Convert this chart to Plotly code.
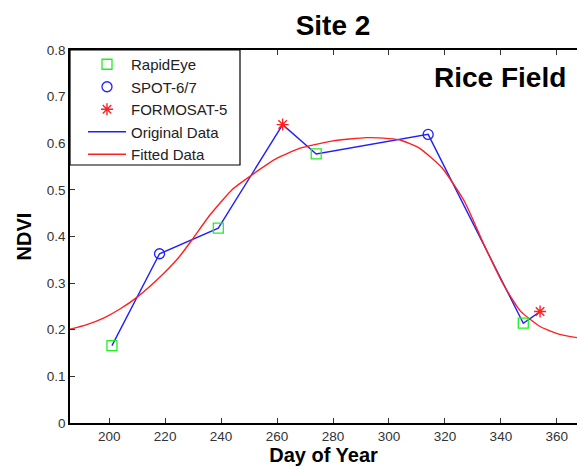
import plotly.graph_objects as go

# Observations by sensor (day of year, NDVI)
rapideye_day = [201, 239, 274, 348]
rapideye_ndvi = [0.166, 0.418, 0.577, 0.214]

spot_day = [218, 314]
spot_ndvi = [0.363, 0.619]

formosat_day = [262, 354]
formosat_ndvi = [0.640, 0.239]

# Fitted NDVI profile
fit_day = [186, 192, 198, 204, 210, 219, 225, 230, 236, 244, 251, 260, 268,
           280, 292, 300, 304, 311, 319, 327, 334, 341, 347, 354, 361, 367.2]
fit_ndvi = [0.201, 0.211, 0.225, 0.245, 0.270, 0.318, 0.356, 0.396, 0.446,
            0.501, 0.532, 0.568, 0.589, 0.605, 0.612, 0.610, 0.607, 0.589,
            0.547, 0.475, 0.382, 0.296, 0.240, 0.207, 0.190, 0.183]

x_ticks = [200, 220, 240, 260, 280, 300, 320, 340, 360]
y_ticks = [0, 0.1, 0.2, 0.3, 0.4, 0.5, 0.6, 0.7, 0.8]
y_tick_text = ["0", "0.1", "0.2", "0.3", "0.4", "0.5", "0.6", "0.7", "0.8"]

# Original series: all acquisitions in date order
orig = sorted(zip(rapideye_day + spot_day + formosat_day,
                  rapideye_ndvi + spot_ndvi + formosat_ndvi))
orig_day = [d for d, _ in orig]
orig_ndvi = [v for _, v in orig]

FONT = "Liberation Sans, Arial, sans-serif"
W, H = 577, 467
L, R, T, B = 70, 0, 50, 44
PW, PH = W - L - R, H - T - B

def px_x(p):
    return (p - L) / PW

def px_y(p):
    return (H - B - p) / PH

fig = go.Figure()

fig.add_trace(go.Scatter(
    x=orig_day, y=orig_ndvi, mode="lines", name="Original Data",
    line=dict(color="#2020ff", width=1.4), legendrank=4))
fig.add_trace(go.Scatter(
    x=fit_day, y=fit_ndvi, mode="lines", name="Fitted Data",
    line=dict(color="#ff2020", width=1.4, shape="spline", smoothing=0.5),
    legendrank=5))
fig.add_trace(go.Scatter(
    x=rapideye_day, y=rapideye_ndvi, mode="markers", name="RapidEye",
    marker=dict(symbol="square-open", size=10, color="#22ee22",
                line=dict(width=1.3)), legendrank=1))
fig.add_trace(go.Scatter(
    x=spot_day, y=spot_ndvi, mode="markers", name="SPOT-6/7",
    marker=dict(symbol="circle-open", size=10, color="#2020ff",
                line=dict(width=1.3)), legendrank=2))
fig.add_trace(go.Scatter(
    x=formosat_day, y=formosat_ndvi, mode="markers", name="FORMOSAT-5",
    marker=dict(symbol="asterisk-open", size=10, color="#ff2020",
                line=dict(width=1.4, color="#ff2020")), legendrank=3))

# Legend frame
fig.add_shape(type="rect", xref="paper", yref="paper",
              x0=px_x(70), x1=px_x(240), y0=px_y(165), y1=px_y(50),
              line=dict(color="black", width=1.2), fillcolor="white",
              layer="above")

fig.add_annotation(text="<b>Rice Field</b>", xref="paper", yref="paper",
                   x=px_x(432), y=px_y(77), xanchor="left", yanchor="middle",
                   showarrow=False, font=dict(family=FONT, size=28, color="black"))

axis_common = dict(
    showgrid=False, zeroline=False, showline=True, linecolor="black",
    linewidth=1.5, ticks="inside", ticklen=5, tickwidth=1, tickcolor="#333",
    tickfont=dict(family=FONT, size=13.5, color="#333"),
)

fig.update_layout(
    width=W, height=H,
    margin=dict(l=L, r=R, t=T, b=B),
    paper_bgcolor="white", plot_bgcolor="white",
    title=dict(text="<b>Site 2</b>", xref="paper", x=px_x(333),
               xanchor="center", yref="container", y=1 - 25 / H,
               yanchor="middle", font=dict(family=FONT, size=28, color="black")),
    xaxis=dict(range=[186, 367.2], tickvals=x_ticks, mirror="ticks",
               title=dict(text="<b>Day of Year</b>", standoff=5,
                          font=dict(family=FONT, size=20, color="black")),
               **axis_common),
    yaxis=dict(range=[0, 0.8], tickvals=y_ticks, ticktext=y_tick_text,
               title=dict(text="<b>NDVI</b>", standoff=10,
                          font=dict(family=FONT, size=20, color="black")),
               **axis_common),
    legend=dict(x=px_x(83), y=px_y(48), xanchor="left", yanchor="top",
                bgcolor="rgba(0,0,0,0)", borderwidth=0, itemwidth=38,
                font=dict(family=FONT, size=15, color="#222"),
                tracegroupgap=0),
    showlegend=True,
)

fig.write_html("out.html")
